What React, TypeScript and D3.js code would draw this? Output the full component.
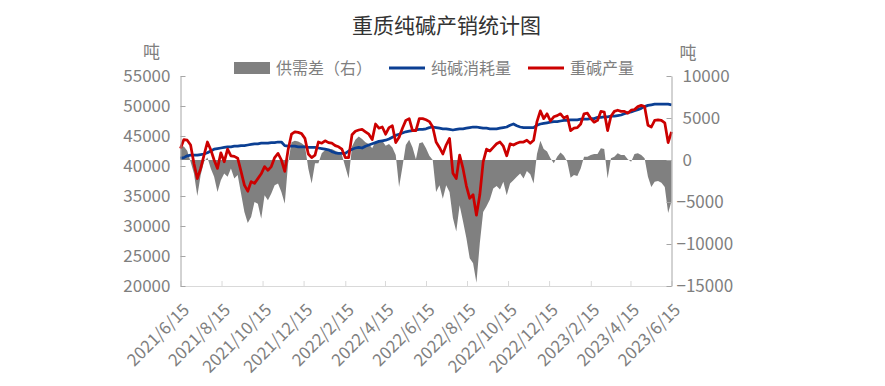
import React, { useEffect, useRef } from 'react';
import * as d3 from 'd3';

// every 5 days, 2021/6/15 .. 2023/6/15
const startDate = new Date(2021, 5, 15);
const stepDays = 5;

// 重碱产量 (left axis)
const production = [
  42900, 44400, 44300, 43500, 40400, 37900, 39600, 41800, 44000, 42700,
  41000, 39600, 42200, 40700, 42800, 41700, 41600, 41300, 39100, 36800,
  35800, 37400, 37100, 37900, 38700, 39900, 39300, 39900, 41400, 42100,
  41000, 39100, 42700, 45300, 45700, 45600, 45400, 44600, 42000, 41400,
  41800, 44000, 43800, 44200, 43900, 43800, 43400, 43200, 42800, 41400,
  41400, 45200, 45800, 46000, 46100, 45700, 45300, 44400, 47000, 46300,
  46500, 45300, 46400, 46700, 43900, 44800, 46300, 47600, 47900, 45900,
  45900, 47900, 47900, 47700, 47400, 46500, 44000, 43100, 42000, 43500,
  44600, 38800, 37900, 41800, 39600, 36700, 34600, 35200, 31800, 35200,
  40700, 42800, 42500, 43100, 43700, 44000, 43300, 41700, 43700, 43500,
  43800, 44000, 44000, 44300, 43800, 44300, 47400, 49200, 47900, 48700,
  47500, 48200, 48400, 48700, 48000, 48300, 45900, 46300, 46400, 47000,
  48700, 48800, 47900, 47300, 47600, 49100, 49000, 45900, 48300, 49100,
  49300, 49100, 49100, 48800, 49300, 49400, 49900, 50100, 49900, 46800,
  46500, 47600, 47700, 47600, 47200, 43900, 45700,
];

// 纯碱消耗量 (left axis)
const consumption = [
  41300, 41400, 41700, 41800, 41800, 41800, 41900, 42000, 42200, 42500,
  42800, 42900, 43000, 43100, 43200, 43200, 43300, 43300, 43400, 43400,
  43500, 43600, 43700, 43700, 43800, 43800, 43800, 43900, 43900, 44000,
  44000, 43400, 43300, 43300, 43300, 43200, 43200, 43200, 43100, 43100,
  43100, 43000, 42900, 42800, 42700, 42400, 42200, 42100, 42100, 42100,
  42500, 42800, 43000, 43100, 43000, 43300, 43500, 43700, 43900, 44100,
  44200, 44300, 44500, 44800, 45100, 45300, 45500, 45700, 45800, 45900,
  46000, 46100, 46100, 46200, 46400, 46500, 46400, 46300, 46200, 46200,
  46100, 46000, 46100, 46200, 46200, 46300, 46400, 46500, 46500, 46400,
  46300, 46300, 46200, 46200, 46200, 46300, 46400, 46500, 46800, 47000,
  46700, 46500, 46400, 46400, 46400, 46400, 46800, 47000, 47100, 47200,
  47300, 47400, 47400, 47500, 47600, 47600, 47700, 47700, 47700, 47800,
  47800, 47800, 47900, 47900, 48100, 48100, 48200, 48200, 48300, 48300,
  48400, 48500, 48700, 48900, 49000, 49200, 49400, 49600, 49900, 50100,
  50200, 50300, 50300, 50300, 50300, 50300, 50200,
];

// 供需差（右）
const gap = [
  1600, 1600, 1100, -200, -1600, -4300, -1800, -200, 300, -1000,
  -2000, -3800, -2400, -1600, -2000, -1000, -2200, -1800, -4000, -6200,
  -7500, -6800, -5000, -5200, -7000, -4200, -4800, -4000, -3000, -2800,
  -3800, -5200, -400, 2100, 2300, 2200, 2000, 1700, -1000, -2800,
  -400, -400, 800, 1200, 1300, 1300, 1100, 900, 600, -800,
  -2200, 1600, 2400, 2800, 2500, 2100, 1900, 1400, 2200, 2100,
  2300, 1700, 1900, 1500, 600, -3200, -800, 1800, 2400, 1500,
  100, 2000, 2100, 1400, 500, 0, -3800, -3000, -4600, -3000,
  -3800, -6900, -8500, -5400, -7300, -9300, -11700, -12300, -14600, -9900,
  -6200, -5500, -4700, -3400, -3100, -3500, -2600, -4200, -2800, -2400,
  -2000, -1600, -2200, -1300, -1700, -2800, 700, 2300, 1300, 1000,
  200, -400, 400, 900, 500, -200, -2100, -1800, -1900, -1000,
  400, 400, 600, 700, 700, 1400, 1300, -2200, 200, 400,
  800, 600, 600, 100, -200, 700, 800, 600, 200, -2000,
  -3200, -2600, -2500, -2700, -3200, -6300, -4900,
];

const xTickLabels = [
  '2021/6/15', '2021/8/15', '2021/10/15', '2021/12/15', '2022/2/15', '2022/4/15', '2022/6/15',
  '2022/8/15', '2022/10/15', '2022/12/15', '2023/2/15', '2023/4/15', '2023/6/15',
];
const leftTicks = [20000, 25000, 30000, 35000, 40000, 45000, 50000, 55000];
const rightTicks = [-15000, -10000, -5000, 0, 5000, 10000];

const FONT = '"Noto Sans CJK SC", "Noto Sans", sans-serif';

export default function App() {
  const ref = useRef<SVGSVGElement>(null);

  useEffect(() => {
    const width = 885, height = 386;
    const left = 180.5, right = 671.5, top = 76, bottom = 286;
    const svg = d3.select(ref.current);
    svg.selectAll('*').remove();
    svg.attr('width', width).attr('height', height);

    const dates = production.map((_, i) => d3.timeDay.offset(startDate, i * stepDays));
    const parse = d3.timeParse('%Y/%m/%d');
    const tickDates = xTickLabels.map(s => parse(s) as Date);

    const x = d3.scaleTime().domain([dates[0], dates[dates.length - 1]]).range([left, right]);
    const yL = d3.scaleLinear().domain([20000, 55000]).range([bottom, top]);
    const yR = d3.scaleLinear().domain([-15000, 10000]).range([bottom, top]);

    //title
    svg.append('text')
      .attr('x', 446.5).attr('y', 33)
      .attr('text-anchor', 'middle')
      .style('font-family', FONT).style('font-size', '21px').attr('fill', '#333')
      .text('重质纯碱产销统计图');

    //gap area
    const area = d3.area<number>()
      .x((_, i) => x(dates[i]))
      .y0(yR(0))
      .y1(d => yR(d));
    svg.append('path')
      .attr('d', area(gap))
      .attr('fill', '#808080');

    const line = d3.line<number>()
      .x((_, i) => x(dates[i]))
      .y(d => yL(d));

    svg.append('path')
      .attr('d', line(consumption))
      .attr('fill', 'none')
      .attr('stroke', '#0b3f93')
      .attr('stroke-width', 2.75)
      .attr('stroke-linejoin', 'round');

    svg.append('path')
      .attr('d', line(production))
      .attr('fill', 'none')
      .attr('stroke', '#cc0000')
      .attr('stroke-width', 2.75)
      .attr('stroke-linejoin', 'round');

    //axes
    const styleAxis = (g: any, color: string) => {
      g.select('.domain').attr('stroke', color);
      g.selectAll('.tick line').attr('stroke', color);
      g.selectAll('.tick text')
        .style('font-family', FONT).style('font-size', '17px').attr('fill', '#7f7f7f');
    };

    const xAxis = d3.axisBottom(x).tickValues(tickDates).tickSizeInner(-5).tickSizeOuter(0).tickFormat(() => '');
    const gx = svg.append('g').attr('transform', `translate(0, ${bottom})`).call(xAxis);
    styleAxis(gx, '#d9d9d9');

    const yAxisL = d3.axisLeft(yL).tickValues(leftTicks).tickSizeInner(-5).tickSizeOuter(0).tickPadding(10).tickFormat(d3.format('d'));
    const gl = svg.append('g').attr('transform', `translate(${left}, 0)`).call(yAxisL);
    styleAxis(gl, '#a6a6a6');

    const yAxisR = d3.axisRight(yR).tickValues(rightTicks).tickSizeInner(-5).tickSizeOuter(0).tickPadding(11).tickFormat(d3.format('d'));
    const gr = svg.append('g').attr('transform', `translate(${right}, 0)`).call(yAxisR);
    styleAxis(gr, '#a6a6a6');
    gr.selectAll('.tick text').attr('x', (d: any) => (d < 0 ? 5 : 11));

    //rotated date labels
    svg.append('g').selectAll('text')
      .data(tickDates)
      .enter().append('text')
      .attr('transform', d => `translate(${x(d) + 10}, 311) rotate(-45)`)
      .attr('text-anchor', 'end')
      .style('font-family', FONT).style('font-size', '17px').attr('fill', '#7f7f7f')
      .text((d, i) => xTickLabels[i]);

    //units
    svg.append('text').attr('x', 151.5).attr('y', 58).attr('text-anchor', 'middle')
      .style('font-family', FONT).style('font-size', '17px').attr('fill', '#7f7f7f').text('吨');
    svg.append('text').attr('x', 688).attr('y', 59).attr('text-anchor', 'middle')
      .style('font-family', FONT).style('font-size', '17px').attr('fill', '#7f7f7f').text('吨');

    //legend
    const legend = svg.append('g').style('font-family', FONT).style('font-size', '16px');
    legend.append('rect').attr('x', 234).attr('y', 62).attr('width', 36).attr('height', 12).attr('fill', '#808080');
    legend.append('text').attr('x', 276).attr('y', 74).attr('fill', '#7f7f7f').text('供需差（右）');
    legend.append('line').attr('x1', 389).attr('x2', 425).attr('y1', 68).attr('y2', 68)
      .attr('stroke', '#0b3f93').attr('stroke-width', 3);
    legend.append('text').attr('x', 431).attr('y', 74).attr('fill', '#7f7f7f').text('纯碱消耗量');
    legend.append('line').attr('x1', 528).attr('x2', 564).attr('y1', 68).attr('y2', 68)
      .attr('stroke', '#cc0000').attr('stroke-width', 3);
    legend.append('text').attr('x', 570).attr('y', 74).attr('fill', '#7f7f7f').text('重碱产量');
  }, []);

  return (
    <svg ref={ref} style={{ position: 'absolute', left: 0, top: 0, background: '#fff' }} />
  );
}
